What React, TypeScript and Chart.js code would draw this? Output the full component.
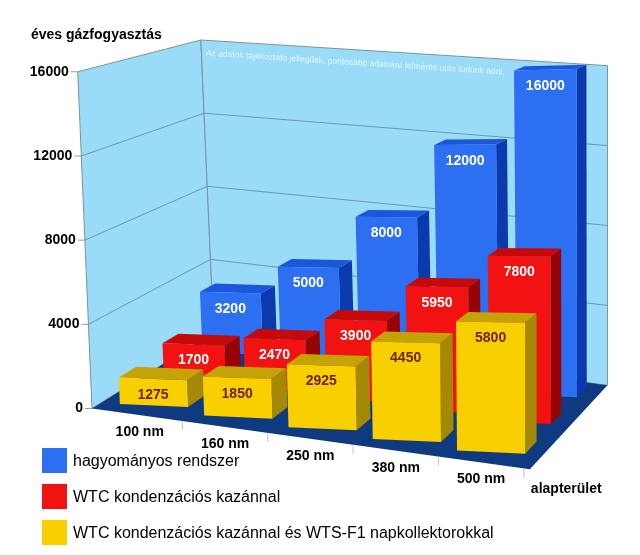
import { useEffect, useRef } from "react";
import { Chart, registerables } from "chart.js";

Chart.register(...registerables);

// chart data
const categories = ["100 nm", "160 nm", "250 nm", "380 nm", "500 nm"];
const hagyomanyos = [3200, 5000, 8000, 12000, 16000];
const wtcKazan = [1700, 2470, 3900, 5950, 7800];
const wtcNapkollektor = [1275, 1850, 2925, 4450, 5800];
const yTicks = [0, 4000, 8000, 12000, 16000];
const seriesNames = [
  "hagyományos rendszer",
  "WTC kondenzációs kazánnal",
  "WTC kondenzációs kazánnal és WTS-F1 napkollektorokkal",
];
const yTitle = "éves gázfogyasztás";
const xTitle = "alapterület";
const note = "Az adatok tájékoztató jellegűek, pontosabb adatokat felmérés után tudunk adni.";

const FONT = '"Liberation Sans", Arial, Helvetica, sans-serif';

// face colours per series: front, top, side, label
const faces = [
  { front: "#2c6ff0", top: "#1b56dc", side: "#0a3aae", label: "#ffffff" },
  { front: "#f21212", top: "#c70909", side: "#960404", label: "#ffffff" },
  { front: "#f8d000", top: "#c3a306", side: "#a48907", label: "#701e0a" },
];
const barWidths = [0.77, 0.76, 0.81];

// perspective setup
const VPX = 1300;
const VPY = -170;
const MUX = 0.035;
const MUY = 0.047;
const SHEAR = 0.138;
const FACE_SHEAR = 0.045;
const GROW = 0.000215;
const LEAN = 0.042;
const FLOOR_FRONT = -0.45;
const FLOOR_BACK = 2.7;
const BAR_DEPTH = 0.42;
const ROW_DEPTH = [2.0, 0.95, -0.1];

type Pt = { x: number; y: number };

function poly(ctx: CanvasRenderingContext2D, pts: Pt[], fill: string, stroke?: string) {
  ctx.beginPath();
  ctx.moveTo(pts[0].x, pts[0].y);
  for (let i = 1; i < pts.length; i++) ctx.lineTo(pts[i].x, pts[i].y);
  ctx.closePath();
  ctx.fillStyle = fill;
  ctx.fill();
  if (stroke) {
    ctx.strokeStyle = stroke;
    ctx.lineWidth = 1;
    ctx.stroke();
  }
}

function line(ctx: CanvasRenderingContext2D, a: Pt, b: Pt, color: string) {
  ctx.beginPath();
  ctx.moveTo(a.x, a.y);
  ctx.lineTo(b.x, b.y);
  ctx.strokeStyle = color;
  ctx.lineWidth = 1;
  ctx.stroke();
}

const depthPlugin = {
  id: "depth3d",
  beforeDatasetsDraw(chart: any) {
    const { ctx, chartArea, scales } = chart;
    const xs = scales.x;
    const ys = scales.y;
    const { left, right, bottom } = chartArea;

    // px: x pixel, h: height in y-scale pixels, d: depth, anchor: point the row slope is taken at
    const proj = (px: number, h: number, d: number, anchor?: number): Pt => {
      const hs = h * (1 + GROW * (px - left));
      const lean = LEAN * Math.max(0, (right - px) / (right - left));
      const xf = px - hs * lean;
      const slope = anchor === undefined ? SHEAR * (px - left) : SHEAR * (anchor - left) + FACE_SHEAR * (px - anchor);
      const yf = bottom + slope - hs;
      const mx = 1 / (1 + MUX * d);
      const my = 1 / (1 + MUY * d);
      return { x: VPX + (xf - VPX) * mx, y: VPY + (yf - VPY) * my };
    };
    const hOf = (v: number) => bottom - ys.getPixelForValue(v);

    const fl = left - 5;
    const fr = right + 6;
    const top = hOf(yTicks[yTicks.length - 1]);

    ctx.save();

    // walls
    const wall = "#9adcf8";
    const edge = "#7d929c";
    poly(ctx, [proj(fl, 0, FLOOR_FRONT), proj(fl, 0, FLOOR_BACK), proj(fl, top, FLOOR_BACK), proj(fl, top, FLOOR_FRONT)], wall, edge);
    poly(ctx, [proj(fl, 0, FLOOR_BACK), proj(fr, 0, FLOOR_BACK), proj(fr, top, FLOOR_BACK), proj(fl, top, FLOOR_BACK)], wall, edge);
    yTicks.forEach((t) => {
      const h = hOf(t);
      if (t > 0 && t < yTicks[yTicks.length - 1]) {
        line(ctx, proj(fl, h, FLOOR_FRONT), proj(fl, h, FLOOR_BACK), "#6c97aa");
        line(ctx, proj(fl, h, FLOOR_BACK), proj(fr, h, FLOOR_BACK), "#6c97aa");
      }
    });

    // note on back wall
    const n0 = proj(fl, top, FLOOR_BACK);
    const n1 = proj(fr, top, FLOOR_BACK);
    ctx.save();
    ctx.translate(n0.x, n0.y);
    ctx.rotate(Math.atan2(n1.y - n0.y, n1.x - n0.x));
    ctx.font = `8.5px ${FONT}`;
    ctx.fillStyle = "rgba(236,247,255,0.85)";
    ctx.textAlign = "left";
    ctx.textBaseline = "middle";
    ctx.fillText(note, 6, 13);
    ctx.restore();

    // floor
    poly(ctx, [proj(fl, 0, FLOOR_FRONT), proj(fr, 0, FLOOR_FRONT), proj(fr, 0, FLOOR_BACK), proj(fl, 0, FLOOR_BACK)], "#0f3a80");

    // y axis ticks + labels
    ctx.font = `bold 14px ${FONT}`;
    ctx.fillStyle = "#000";
    ctx.textAlign = "right";
    ctx.textBaseline = "middle";
    yTicks.forEach((t) => {
      const p = proj(fl, hOf(t), FLOOR_FRONT);
      line(ctx, { x: p.x - 7, y: p.y }, p, "#999");
      ctx.fillText(String(t), p.x - 9, p.y);
    });

    // x axis ticks + labels
    const step = (right - left) / categories.length;
    for (let i = 1; i <= categories.length; i++) {
      const p = proj(left + i * step, 0, FLOOR_FRONT);
      line(ctx, p, { x: p.x, y: p.y + 9 }, "#c4c4c4");
    }
    ctx.textAlign = "center";
    categories.forEach((c, i) => {
      const p = proj(xs.getPixelForValue(i), 0, FLOOR_FRONT);
      ctx.fillText(c, p.x, p.y + 17);
    });
    const pe = proj(fr, 0, FLOOR_FRONT);
    ctx.textAlign = "left";
    ctx.fillText(xTitle, pe.x + 1, pe.y + 20);

    // y title
    ctx.fillText(yTitle, 31, 35);

    // bars, back row first
    const order = chart.data.datasets.map((_: any, i: number) => i).sort((a: number, b: number) => ROW_DEPTH[b] - ROW_DEPTH[a]);
    order.forEach((di: number) => {
      const meta = chart.getDatasetMeta(di);
      const c = faces[di];
      const d0 = ROW_DEPTH[di];
      const d1 = d0 + BAR_DEPTH;
      meta.data.forEach((el: any, i: number) => {
        const l = el.x - el.width / 2;
        const r = el.x + el.width / 2;
        const h = el.base - el.y;
        const a = el.x;
        poly(ctx, [proj(r, 0, d0, a), proj(r, 0, d1, a), proj(r, h, d1, a), proj(r, h, d0, a)], c.side);
        poly(ctx, [proj(l, h, d0, a), proj(r, h, d0, a), proj(r, h, d1, a), proj(l, h, d1, a)], c.top);
        poly(ctx, [proj(l, 0, d0, a), proj(r, 0, d0, a), proj(r, h, d0, a), proj(l, h, d0, a)], c.front);
        const tp = proj(el.x, h, d0, a);
        ctx.font = `bold 14px ${FONT}`;
        ctx.fillStyle = c.label;
        ctx.textAlign = "center";
        ctx.textBaseline = "middle";
        ctx.fillText(String(chart.data.datasets[di].data[i]), tp.x, tp.y + 16);
      });
    });

    ctx.restore();
    return false;
  },
};

export default function App() {
  const canvasRef = useRef<HTMLCanvasElement>(null);

  useEffect(() => {
    if (!canvasRef.current) return;
    const series = [hagyomanyos, wtcKazan, wtcNapkollektor];
    const chart = new Chart(canvasRef.current, {
      type: "bar",
      data: {
        labels: categories,
        datasets: series.map((values, i) => ({
          label: seriesNames[i],
          data: values,
          backgroundColor: faces[i].front,
          grouped: false,
          categoryPercentage: 1,
          barPercentage: barWidths[i],
        })),
      },
      options: {
        animation: false,
        responsive: true,
        maintainAspectRatio: false,
        events: [],
        layout: { padding: { left: 116, right: 104, top: 67, bottom: 158 } },
        scales: {
          x: { display: false },
          y: { display: false, min: 0, max: 16000 },
        },
        plugins: { legend: { display: false }, tooltip: { enabled: false } },
      },
      plugins: [depthPlugin],
    } as any);
    return () => chart.destroy();
  }, []);

  return (
    <div style={{ position: "absolute", left: 0, top: 0, width: 640, height: 555, background: "#fff", fontFamily: FONT }}>
      <canvas ref={canvasRef} />
      {seriesNames.map((name, i) => (
        <div key={name} style={{ position: "absolute", left: 42, top: 448 + i * 36, height: 25, display: "flex", alignItems: "center" }}>
          <div style={{ width: 25, height: 25, background: faces[i].front, marginRight: 6 }} />
          <span style={{ fontSize: 16, color: "#000", whiteSpace: "nowrap" }}>{name}</span>
        </div>
      ))}
    </div>
  );
}
